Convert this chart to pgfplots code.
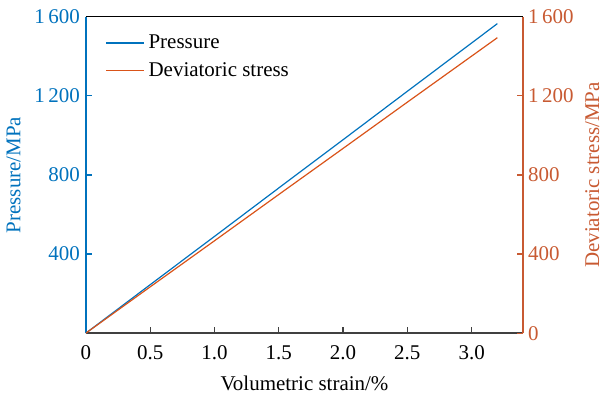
\documentclass[border=0pt]{standalone}
\usepackage{pgfplots}
\pgfplotsset{compat=1.18}
\usepackage{fontspec}
\setmainfont{Liberation Serif}
\definecolor{cblue}{RGB}{0,114,189}
\definecolor{corange}{RGB}{217,83,25}
\definecolor{cright}{RGB}{200,90,50}
\begin{document}
\begin{tikzpicture}
\pgfplotsset{
  every axis/.append style={
    scale only axis, width=219pt, height=158.5pt,
    xmin=0, xmax=3.4, ymin=0, ymax=1600,
    font=\fontsize{10.5}{12}\selectfont,
    tick align=inside, major tick length=3pt,
  }
}
\begin{axis}[
  axis x line*=bottom, axis y line*=left,
  x axis line style={color=black!75, line width=0.7pt},
  y axis line style={color=cblue, line width=0.8pt},
  xtick={0,0.5,1,1.5,2,2.5,3},
  xticklabels={\textrm{0},\textrm{0.5},\textrm{1.0},\textrm{1.5},\textrm{2.0},\textrm{2.5},\textrm{3.0}},
  ytick={400,800,1200,1600},
  yticklabels={\textrm{400},\textrm{800},\textrm{1\,200},\textrm{1\,600}},
  x tick style={color=black!75, line width=0.6pt},
  y tick style={color=cblue, line width=0.6pt},
  yticklabel style={color=cblue, xshift=0.5pt},
  xticklabel style={yshift=-2.5pt},
  xlabel={Volumetric strain/\%},
  ylabel={Pressure/MPa},
  ylabel style={color=cblue},
  xlabel style={yshift=-1.5pt},
  legend style={draw=none, fill=none, at={(0.03,0.97)}, anchor=north west,
    font=\fontsize{10.5}{12}\selectfont, row sep=1.5pt},
  legend cell align=left,
  legend image code/.code={\draw[#1, line width=0.65pt] (0pt,0pt) -- (19pt,0pt);},
]
\addplot[cblue, line width=0.6pt] coordinates {
(0,0) (0.5,245) (1.0,489) (1.5,734) (2.0,978) (2.5,1223) (3.2,1565)};
\addlegendentry{Pressure}
\addplot[corange, line width=0.6pt] coordinates {
(0,0) (0.5,234) (1.0,467) (1.5,701) (2.0,934) (2.5,1168) (3.2,1494)};
\addlegendentry{Deviatoric stress}
\end{axis}
\begin{axis}[
  axis x line*=top, axis y line*=right,
  xtick=\empty,
  x axis line style={color=black, line width=0.7pt},
  y axis line style={color=cright, line width=0.8pt},
  ytick={0,400,800,1200,1600},
  yticklabels={\textrm{0},\textrm{400},\textrm{800},\textrm{1\,200},\textrm{1\,600}},
  y tick style={color=cright, line width=0.6pt},
  yticklabel style={color=cright, xshift=-1pt},
  ylabel={Deviatoric stress/MPa},
  ylabel style={color=cright, yshift=1pt},
]
\end{axis}
\path (current bounding box.north) ++(0,1.5pt);
\end{tikzpicture}
\end{document}
